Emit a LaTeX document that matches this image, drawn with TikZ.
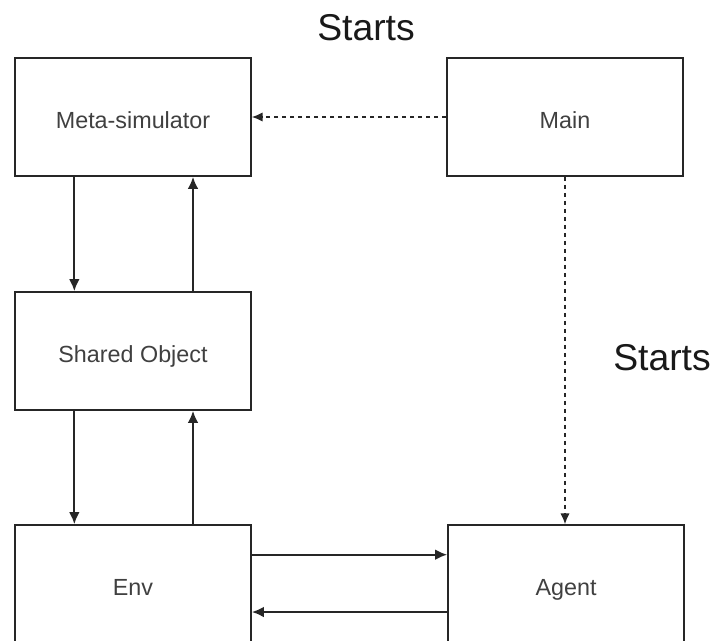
\documentclass[tikz,border=0pt]{standalone}
\usepackage{fontspec}
\setmainfont{Liberation Sans}
\usetikzlibrary{arrows.meta}

\begin{document}
\begin{tikzpicture}[x=0.75pt,y=-0.75pt,
  block/.style={draw=black!85,line width=1.3pt,minimum width=177pt,minimum height=88.5pt,
    text height=17pt,text depth=0pt,font=\fontsize{17.5}{20}\selectfont,text=black!75},
  flow/.style={-{Latex[length=9pt,width=8pt]},line width=1.4pt,draw=black!85},
  launch/.style={-{Latex[length=8pt,width=7pt]},line width=1pt,draw=black!85,dash pattern=on 3pt off 3pt},
  caption/.style={font=\fontsize{28}{33}\selectfont,text=black!90}]
\useasboundingbox (0,0) rectangle (716,640);
\clip (0,0) rectangle (716,640);
% boxes
\node[block] (meta) at (133,117) {Meta-simulator};
\node[block] (main) at (565,117) {Main};
\node[block] (shared) at (133,351) {Shared Object};
\node[block] (env) at (133,584) {Env};
\node[block] (agent) at (566,584) {Agent};
% labels
\node[caption] (startsA) at (366,28) {Starts};
\node[caption] (startsB) at (662,358) {Starts};
% dashed
\draw[launch] (main.west) -- (meta.east);
\draw[launch] (main.south) -- (main.south |- agent.north);
% solid
\draw[flow] ([xshift=-44pt]meta.south) -- ([xshift=-44pt]shared.north);
\draw[flow] ([xshift=45pt]shared.north) -- ([xshift=45pt]meta.south);
\draw[flow] ([xshift=-44pt]shared.south) -- ([xshift=-44pt]env.north);
\draw[flow] ([xshift=45pt]env.north) -- ([xshift=45pt]shared.south);
\draw[flow] ([yshift=22pt]env.east) -- ([yshift=22pt]env.east -| agent.west);
\draw[flow] ([yshift=-21pt]agent.west) -- ([yshift=-21pt]agent.west -| env.east);
\end{tikzpicture}
\end{document}
